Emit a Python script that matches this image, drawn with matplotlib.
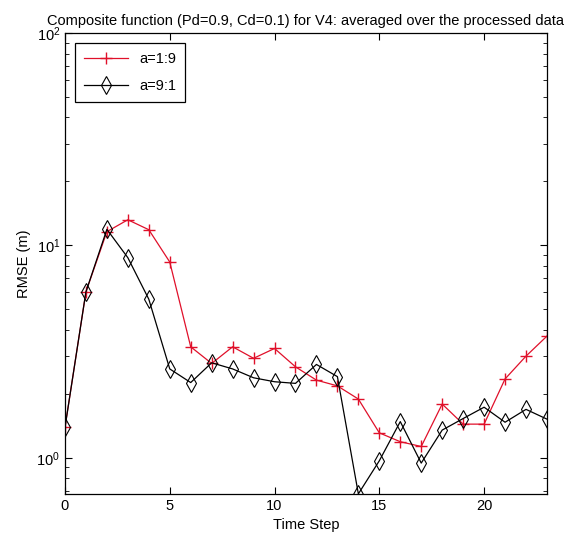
import matplotlib
matplotlib.use("Agg")
import matplotlib.pyplot as plt
from matplotlib import font_manager

# RMSE per time step for the two weightings
steps = list(range(24))
rmse_a19 = [1.39, 6.04, 11.6, 13.2, 11.85, 8.35, 3.33, 2.78, 3.33, 2.94, 3.27, 2.68,
            2.32, 2.18, 1.89, 1.31, 1.19, 1.13, 1.79, 1.44, 1.44, 2.35, 3.01, 3.74]
rmse_a91 = [1.39, 6.04, 11.9, 8.75, 5.58, 2.62, 2.26, 2.80, 2.62, 2.38, 2.28, 2.24,
            2.75, 2.41, 0.676, 0.968, 1.48, 0.944, 1.35, 1.53, 1.73, 1.47, 1.69, 1.52]
labels = ["a=1:9", "a=9:1"]
title = "Composite function (Pd=0.9, Cd=0.1) for V4: averaged over the processed data"

names = {f.name for f in font_manager.fontManager.ttflist}
fam = "Liberation Sans Narrow" if "Liberation Sans Narrow" in names else "Liberation Sans"
plt.rcParams["font.family"] = [fam, "DejaVu Sans"]
plt.rcParams["font.size"] = 10.5

fig = plt.figure(figsize=(5.64, 5.46), dpi=100)
ax = fig.add_axes([0.1152, 0.0952, 0.8546, 0.8444])

ax.semilogy(steps, rmse_a19, color="#e0102a", lw=0.9, marker="+", ms=9, mew=1.0,
            label=labels[0])
ax.semilogy(steps, rmse_a91, color="black", lw=0.9, marker="d", ms=9, mew=0.8,
            mfc="none", label=labels[1])

ax.set_xlim(0, 23)
ax.set_ylim(0.675, 100)
ax.set_xticks([0, 5, 10, 15, 20])
ax.tick_params(which="both", direction="in", top=True, right=True, labelsize=10.5)
ax.tick_params(which="major", length=5)
ax.tick_params(which="minor", length=3)
for s in ax.spines.values():
    s.set_linewidth(0.9)

ax.set_xlabel("Time Step", fontsize=10.5)
ax.set_ylabel("RMSE (m)", fontsize=10.5)
ax.set_title(title, fontsize=10.5, pad=6)

leg = ax.legend(loc="upper left", fancybox=False, edgecolor="black", framealpha=1,
                fontsize=10.5, handlelength=3.0, borderaxespad=0.7,
                labelspacing=0.9, borderpad=0.6)
leg.get_frame().set_linewidth(0.9)

fig.savefig("out.png", dpi=100)
